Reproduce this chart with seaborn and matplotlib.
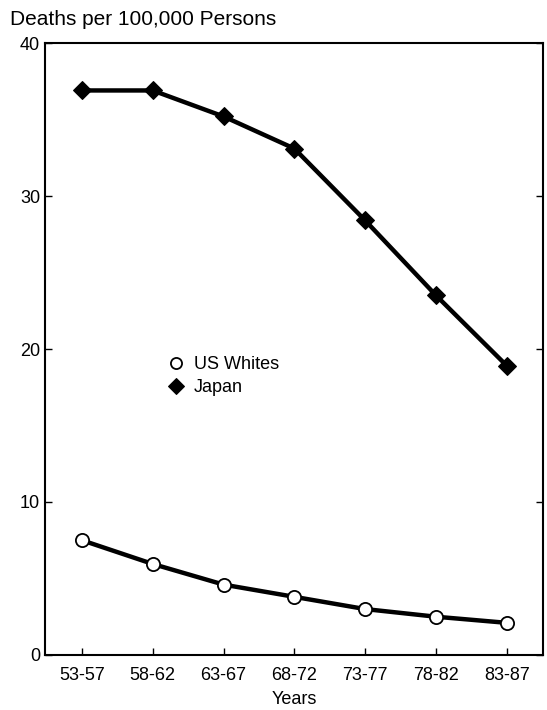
import matplotlib
matplotlib.use("Agg")
import matplotlib.pyplot as plt
import seaborn as sns
import pandas as pd

years = ['53-57', '58-62', '63-67', '68-72', '73-77', '78-82', '83-87']
japan = [36.9, 36.9, 35.2, 33.1, 28.4, 23.5, 18.9]
us_whites = [7.5, 5.95, 4.6, 3.8, 3.0, 2.5, 2.1]

sns.set_style("ticks", {'axes.edgecolor': 'black', 'text.color': 'black',
                        'xtick.color': 'black', 'ytick.color': 'black',
                        'axes.labelcolor': 'black'})
plt.rcParams['font.family'] = ['Liberation Sans', 'DejaVu Sans']

df = pd.DataFrame({
    'x': list(range(len(years))) * 2,
    'rate': us_whites + japan,
    'group': ['US Whites'] * len(years) + ['Japan'] * len(years),
})

fig = plt.figure(figsize=(5.47, 7.1), dpi=100)
ax = fig.add_axes([0.0823, 0.0775, 0.9104, 0.8619])

# US Whites: hollow circles
us = df[df['group'] == 'US Whites']
sns.lineplot(data=us, x='x', y='rate', ax=ax, color='black', linewidth=3.2,
             marker='o', markersize=9.5, markerfacecolor='white',
             markeredgecolor='black', markeredgewidth=1.3, label='US Whites')
# Japan: filled diamonds
jp = df[df['group'] == 'Japan']
sns.lineplot(data=jp, x='x', y='rate', ax=ax, color='black', linewidth=3.2,
             marker='D', markersize=9, markerfacecolor='black',
             markeredgecolor='black', label='Japan')

ax.set_xlim(-0.52, 6.51)
ax.set_ylim(0, 40)
ax.set_xticks(range(len(years)))
ax.set_xticklabels(years)
ax.set_yticks([0, 10, 20, 30, 40])
ax.tick_params(direction='in', length=5, width=1, labelsize=13, right=True)
ax.tick_params(axis='x', pad=9)
for s in ax.spines.values():
    s.set_linewidth(1.5)
ax.set_xlabel('Years', fontsize=13, labelpad=5)
ax.set_ylabel('')

leg = ax.legend(loc='upper left', bbox_to_anchor=(0.215, 0.515), frameon=False,
                fontsize=13, handlelength=0.8, handletextpad=0.6,
                labelspacing=0.35)
for h in leg.legend_handles:
    h.set_linestyle('none')
    h.set_markersize(8)

fig.text(0.018, 0.972, 'Deaths per 100,000 Persons', fontsize=15, va='center')

fig.savefig('out.png', dpi=100)
